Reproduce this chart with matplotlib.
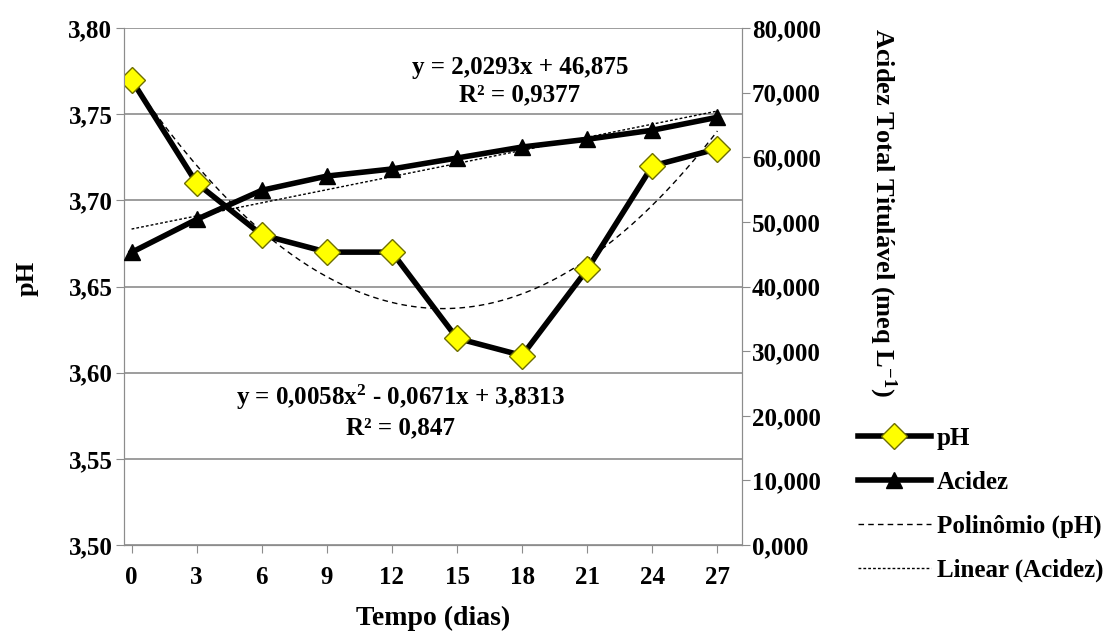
import numpy as np
import matplotlib.pyplot as plt
from matplotlib.ticker import FuncFormatter

# dados
dias = [0, 3, 6, 9, 12, 15, 18, 21, 24, 27]
ph = [3.77, 3.71, 3.68, 3.67, 3.67, 3.62, 3.61, 3.66, 3.72, 3.73]
acidez = [45.3, 50.4, 54.9, 57.1, 58.2, 59.9, 61.6, 62.8, 64.2, 66.2]

# coeficientes das linhas de tendência (índice 1..10, como no Excel)
poly_ph = [0.0058, -0.0671, 3.8313]
lin_acidez = [2.0293, 46.875]

plt.rcParams['font.family'] = ['Liberation Serif', 'DejaVu Serif']
plt.rcParams['font.weight'] = 'bold'
plt.rcParams['mathtext.fontset'] = 'custom'
plt.rcParams['mathtext.rm'] = 'Liberation Serif:bold'
plt.rcParams['mathtext.it'] = 'Liberation Serif:bold'
plt.rcParams['mathtext.bf'] = 'Liberation Serif:bold'

FS = 18

fig, ax = plt.subplots(figsize=(11.13, 6.39), dpi=100)
fig.subplots_adjust(left=0.111, right=0.667, top=0.956, bottom=0.147)
ax2 = ax.twinx()

xs = np.linspace(1, len(dias), 200)
xs_dias = (xs - 1) * 3

l1, = ax.plot(dias, ph, color='black', lw=4, marker='D', ms=13,
              mfc='#ffff00', mec='#6e6e00', mew=1, zorder=5)
l3, = ax.plot(xs_dias, np.polyval(poly_ph, xs), color='black', lw=1,
              ls=(0, (4, 3)), zorder=3)
l2, = ax2.plot(dias, acidez, color='black', lw=4, marker='^', ms=11,
               zorder=5)
l4, = ax2.plot(xs_dias, np.polyval(lin_acidez, xs), color='black', lw=1,
               ls=(0, (2, 1.5)), zorder=3)

ax.set_xlim(-0.37, 28.15)
ax.set_ylim(3.50, 3.80)
ax2.set_ylim(0, 80)
ax.set_xticks(dias)
ax.set_yticks(np.arange(3.50, 3.801, 0.05))
ax2.set_yticks(np.arange(0, 81, 10))
ax.yaxis.set_major_formatter(FuncFormatter(lambda v, p: f"{v:.2f}".replace('.', ',')))
ax2.yaxis.set_major_formatter(FuncFormatter(lambda v, p: f"{v:.3f}".replace('.', ',')))

ax.grid(axis='y', color='#8c8c8c', lw=1.2)
ax.set_axisbelow(True)
for a in (ax, ax2):
    for s in a.spines.values():
        s.set_color('#8c8c8c')
    a.tick_params(colors='#8c8c8c', labelcolor='black', labelsize=FS, length=6)
ax.tick_params(axis='x', pad=9)
ax.tick_params(axis='y', pad=2)
ax2.tick_params(axis='y', pad=1)
ax.spines['top'].set_visible(False)
ax2.spines['top'].set_visible(False)

ax.set_xlabel('Tempo (dias)', fontsize=20, fontweight='bold')
ax.xaxis.set_label_coords(0.5, -0.118)
ax.set_ylabel('pH', fontsize=19, fontweight='bold')
ax.yaxis.set_label_coords(-0.137, 0.516)
fig.text(0.793, 0.668, 'Acidez Total Titulável (meq L$^{-1}$)', rotation=-90,
         ha='center', va='center', fontsize=19, fontweight='bold')

ax.text(17.9, 3.769, 'y = 2,0293x + 46,875\nR² = 0,9377', ha='center', va='center',
        fontsize=FS, fontweight='bold', linespacing=1.25)
ax.text(12.4, 3.578, 'y = 0,0058x$^{2}$ - 0,0671x + 3,8313\nR² = 0,847', ha='center',
        va='center', fontsize=FS, fontweight='bold', linespacing=1.25)

fig.legend([l1, l2, l3, l4], ['pH', 'Acidez', 'Polinômio (pH)', 'Linear (Acidez)'],
           loc='upper left', bbox_to_anchor=(0.771, 0.332), frameon=False,
           borderpad=0, borderaxespad=0, handlelength=2.9, handletextpad=0.25,
           labelspacing=0.83, prop={'weight': 'bold', 'size': FS})

fig.savefig('out.png', dpi=100)
